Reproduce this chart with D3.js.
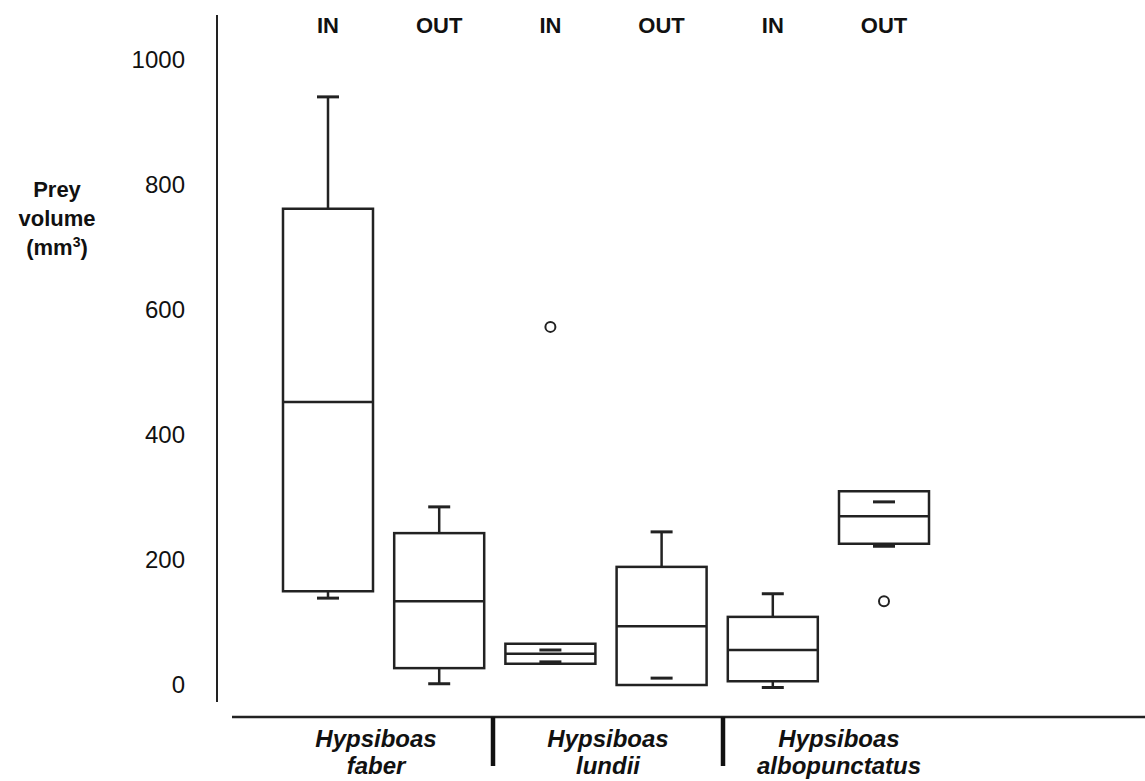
<!DOCTYPE html>
<html lang="en">
<head>
<meta charset="UTF-8">
<title>Prey volume</title>
<script src="https://d3js.org/d3.v7.min.js"></script>
<style>
    body { margin: 0; background: #fff; }
    svg { display: block; }
    text { font-family: "Liberation Sans", Arial, sans-serif; fill: #111; }
</style>
</head>
<body>
<div id="chart"></div>
<script>
// data
var species = [["Hypsiboas", "faber"], ["Hypsiboas", "lundii"], ["Hypsiboas", "albopunctatus"]];
var habitat = ["IN", "OUT", "IN", "OUT", "IN", "OUT"];
var whiskerHigh = [941, 285, 56, 245, 146, 293];
var q3 = [762, 243, 66, 189, 109, 310];
var median = [453, 134, 50, 94, 56, 270];
var q1 = [150, 27, 34, 0, 6, 226];
var whiskerLow = [139, 2, 37, 11, -4, 222];
var outliers = [[], [], [573], [], [], [134]];
var yTicks = [0, 200, 400, 600, 800, 1000];

var width = 1145, height = 781;
var boxW = 90, capW = 22;

var svg = d3.select("#chart").append("svg")
    .attr("width", width)
    .attr("height", height);

var x = d3.scalePoint()
    .domain(d3.range(habitat.length))
    .range([328, 884]);

var y = d3.scaleLinear()
    .domain([0, 1000])
    .range([685, 60]);

// y axis
var yAxis = d3.axisLeft(y).tickValues(yTicks).tickFormat(d3.format("d")).tickSize(0).tickPadding(0);
var gy = svg.append("g")
    .attr("transform", "translate(185,0)")
    .call(yAxis);
gy.select(".domain").remove();
gy.selectAll("text")
    .style("font-size", "24px")
    .style("font-family", "'Liberation Sans', Arial, sans-serif")
    .attr("fill", "#222");

svg.append("line")
    .attr("x1", 217).attr("x2", 217)
    .attr("y1", 15).attr("y2", 702)
    .attr("stroke", "#222").attr("stroke-width", 2);

// y label
var ylab = svg.append("text")
    .attr("text-anchor", "middle")
    .style("font-size", "22px")
    .style("font-weight", "bold");
ylab.append("tspan").attr("x", 57).attr("y", 197).text("Prey");
ylab.append("tspan").attr("x", 57).attr("y", 226).text("volume");
ylab.append("tspan").attr("x", 57).attr("y", 255).text("(mm");
ylab.append("tspan").attr("dy", -8).style("font-size", "14px").text("3");
ylab.append("tspan").attr("dy", 8).text(")");

// IN / OUT labels
svg.selectAll(".hab")
    .data(habitat)
    .enter().append("text")
    .attr("class", "hab")
    .attr("x", function(d, i) { return x(i); })
    .attr("y", 33)
    .attr("text-anchor", "middle")
    .style("font-size", "22px")
    .style("font-weight", "bold")
    .text(function(d) { return d; });

// boxes
var boxes = svg.selectAll(".box")
    .data(habitat)
    .enter().append("g")
    .attr("class", "box")
    .attr("transform", function(d, i) { return "translate(" + x(i) + ",0)"; });

boxes.append("rect")
    .attr("x", -boxW / 2)
    .attr("width", boxW)
    .attr("y", function(d, i) { return y(q3[i]); })
    .attr("height", function(d, i) { return y(q1[i]) - y(q3[i]); })
    .attr("fill", "none")
    .attr("stroke", "#222")
    .attr("stroke-width", 2.5);

boxes.append("line")
    .attr("x1", -boxW / 2).attr("x2", boxW / 2)
    .attr("y1", function(d, i) { return y(median[i]); })
    .attr("y2", function(d, i) { return y(median[i]); })
    .attr("stroke", "#222").attr("stroke-width", 2.5);

// whiskers: stem only when outside the box
boxes.append("line")
    .attr("x1", 0).attr("x2", 0)
    .attr("y1", function(d, i) { return y(Math.max(q3[i], whiskerHigh[i])); })
    .attr("y2", function(d, i) { return y(q3[i]); })
    .attr("stroke", "#222").attr("stroke-width", 2.5);

boxes.append("line")
    .attr("x1", 0).attr("x2", 0)
    .attr("y1", function(d, i) { return y(q1[i]); })
    .attr("y2", function(d, i) { return y(Math.min(q1[i], whiskerLow[i])); })
    .attr("stroke", "#222").attr("stroke-width", 2.5);

boxes.append("line")
    .attr("x1", -capW / 2).attr("x2", capW / 2)
    .attr("y1", function(d, i) { return y(whiskerHigh[i]); })
    .attr("y2", function(d, i) { return y(whiskerHigh[i]); })
    .attr("stroke", "#222").attr("stroke-width", 3);

boxes.append("line")
    .attr("x1", -capW / 2).attr("x2", capW / 2)
    .attr("y1", function(d, i) { return y(whiskerLow[i]); })
    .attr("y2", function(d, i) { return y(whiskerLow[i]); })
    .attr("stroke", "#222").attr("stroke-width", 3);

boxes.selectAll("circle")
    .data(function(d, i) { return outliers[i]; })
    .enter().append("circle")
    .attr("cx", 0)
    .attr("cy", function(d) { return y(d); })
    .attr("r", 5)
    .attr("fill", "none")
    .attr("stroke", "#222")
    .attr("stroke-width", 2);

// bottom species axis
svg.append("line")
    .attr("x1", 232).attr("x2", width)
    .attr("y1", 717).attr("y2", 717)
    .attr("stroke", "#222").attr("stroke-width", 2.5);

var sepX = [493, 723];
svg.selectAll(".sep")
    .data(sepX)
    .enter().append("line")
    .attr("class", "sep")
    .attr("x1", function(d) { return d; }).attr("x2", function(d) { return d; })
    .attr("y1", 717).attr("y2", 766)
    .attr("stroke", "#111").attr("stroke-width", 4.5);

var groupX = [376, 608, 839];
var sp = svg.selectAll(".sp")
    .data(species)
    .enter().append("text")
    .attr("class", "sp")
    .attr("text-anchor", "middle")
    .style("font-size", "24px")
    .style("font-weight", "bold")
    .style("font-style", "italic");
sp.append("tspan")
    .attr("x", function(d, i) { return groupX[i]; })
    .attr("y", 747)
    .text(function(d) { return d[0]; });
sp.append("tspan")
    .attr("x", function(d, i) { return groupX[i]; })
    .attr("y", 774)
    .text(function(d) { return d[1]; });
</script>
</body>
</html>
